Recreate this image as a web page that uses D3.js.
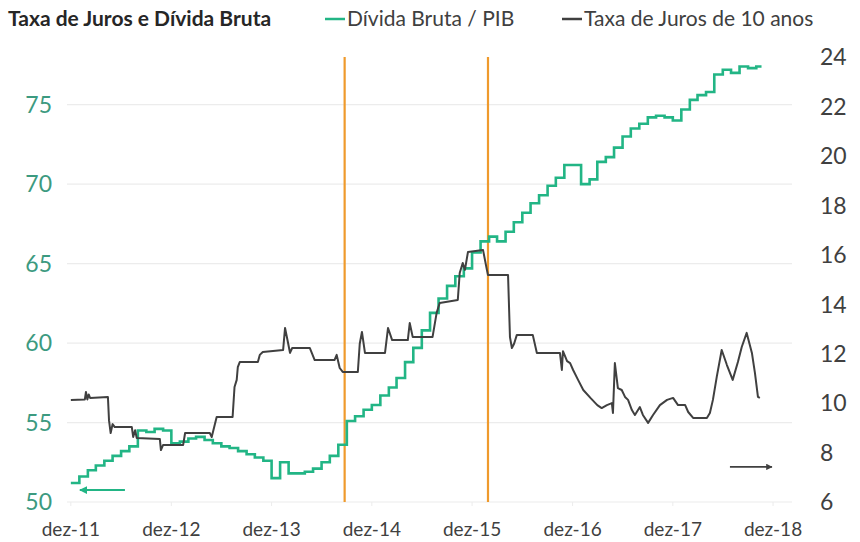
<!DOCTYPE html>
<html><head><meta charset="utf-8">
<script src="https://cdn.jsdelivr.net/npm/d3@7"></script>
<style>
body{margin:0;background:#fff}
svg{display:block}
text{font-family:Lato,"Open Sans",sans-serif}
</style>
</head><body>
<svg id="c" width="860" height="542"></svg>
<script>
const chartTitle = "Taxa de Juros e Dívida Bruta";
const seriesNames = ["Dívida Bruta / PIB", "Taxa de Juros de 10 anos"];
const leftTicks = [50, 55, 60, 65, 70, 75];
const rightTicks = [6, 8, 10, 12, 14, 16, 18, 20, 22, 24];
const xTickDates = ["2011-12-01","2012-12-01","2013-12-01","2014-12-01","2015-12-01","2016-12-01","2017-12-01","2018-12-01"];
const xTickLabels = ["dez-11","dez-12","dez-13","dez-14","dez-15","dez-16","dez-17","dez-18"];

// Dívida Bruta / PIB, monthly from dez-11
const debtStart = "2011-12-01";
const debtValues = [51.2,51.6,52.0,52.3,52.6,52.9,53.2,53.5,54.5,54.4,
  54.6,54.5,53.7,53.8,54.0,54.1,53.9,53.7,53.5,53.4,
  53.2,53.0,52.8,52.6,51.5,52.5,51.8,51.8,51.9,52.1,
  52.5,52.9,53.6,55.1,55.4,55.8,56.1,56.7,57.2,57.8,
  58.8,59.7,60.8,61.9,62.8,63.6,64.2,64.7,65.7,66.4,
  66.7,66.4,67.0,67.6,68.2,68.8,69.3,69.9,70.4,71.2,
  71.2,70.0,70.3,71.4,71.7,72.3,73.0,73.5,73.8,74.2,
  74.3,74.2,74.0,74.7,75.3,75.6,75.8,76.9,77.2,77.0,
  77.4,77.3,77.4];
const debtEnd = "2018-10-20";

// Taxa de Juros de 10 anos
const rateDates = ["2011-12-01","2012-01-21","2012-01-25","2012-01-30","2012-02-04","2012-02-09","2012-04-14","2012-04-18","2012-04-24","2012-05-01",
  "2012-05-09","2012-07-10","2012-07-15","2012-07-22","2012-07-28","2012-10-20","2012-10-24","2012-11-01","2013-01-13","2013-01-20",
  "2013-04-20","2013-04-27","2013-05-15","2013-07-12","2013-07-19","2013-07-27","2013-07-31","2013-08-07","2013-10-12","2013-10-19",
  "2013-10-30","2014-01-12","2014-01-19","2014-01-30","2014-02-06","2014-02-14","2014-04-19","2014-05-07","2014-07-18","2014-07-26",
  "2014-08-06","2014-08-17","2014-10-11","2014-10-18","2014-10-26","2014-11-06","2015-01-18","2015-01-29","2015-02-13","2015-04-11",
  "2015-04-18","2015-04-29","2015-07-10","2015-07-25","2015-08-05","2015-10-10","2015-10-17","2015-10-28","2015-11-05","2015-11-16",
  "2016-01-10","2016-01-24","2016-01-28","2016-04-10","2016-04-17","2016-04-24","2016-05-02","2016-05-12","2016-07-09","2016-07-24",
  "2016-10-16","2016-10-23","2016-10-27","2016-11-11","2016-11-22","2016-12-03","2016-12-21","2017-01-09","2017-02-04","2017-03-01",
  "2017-03-17","2017-04-05","2017-04-23","2017-04-27","2017-05-04","2017-05-15","2017-05-29","2017-06-10","2017-06-21","2017-07-05",
  "2017-07-16","2017-08-03","2017-08-14","2017-09-02","2017-09-20","2017-10-15","2017-11-10","2017-12-02","2017-12-20","2018-01-15",
  "2018-01-26","2018-02-13","2018-04-04","2018-04-15","2018-04-26","2018-05-10","2018-05-28","2018-06-16","2018-07-07","2018-07-26",
  "2018-08-09","2018-08-27","2018-09-15","2018-09-26","2018-10-07","2018-10-14"];
const rateValues = [10.13,10.15,10.45,10.15,10.35,10.21,10.25,9.30,8.79,9.15,
  9.03,9.03,8.63,8.90,8.59,8.55,8.10,8.31,8.31,8.79,
  8.79,8.63,9.44,9.44,10.65,10.94,11.46,11.66,11.66,11.95,
  12.07,12.15,13.04,12.43,12.03,12.23,12.23,11.74,11.74,11.95,
  11.42,11.26,11.26,12.40,12.88,12.03,12.03,13.04,12.55,12.55,
  13.24,12.67,12.67,13.65,14.05,14.17,15.26,15.67,15.39,16.11,
  16.19,15.39,15.18,15.18,12.67,12.23,12.40,12.76,12.76,12.03,
  12.03,11.34,12.10,11.70,11.62,11.34,10.94,10.53,10.21,9.92,
  9.80,9.92,10.00,9.60,11.62,10.61,10.53,10.25,10.13,9.72,
  9.52,9.84,9.52,9.20,9.52,9.92,10.13,10.21,9.92,9.92,
  9.64,9.40,9.40,9.60,10.13,11.06,12.15,11.54,10.94,11.66,
  12.27,12.84,12.03,11.22,10.25,10.21];

const eventDates = ["2014-08-24", "2016-01-28"];
const greenArrowDates = ["2012-06-15", "2012-01-03"];
const greenArrowValue = 50.75;
const darkArrowDates = ["2018-06-27", "2018-11-27"];
const darkArrowValue = 7.42;

const parse = d3.utcParse("%Y-%m-%d");
const svg = d3.select("#c");
const GREEN = "#22b585", DARK = "#404040", ORANGE = "#ef9a2c", GRID = "#ececec";

const x = d3.scaleUtc().domain([parse("2011-11-17"), parse("2019-02-08")]).range([67, 792]);
const yL = d3.scaleLinear().domain([50, 78]).range([502, 57]);
const yR = d3.scaleLinear().domain([6, 24]).range([502, 57]);

const defs = svg.append("defs");
function marker(id, color) {
  defs.append("marker").attr("id", id).attr("viewBox", "0 0 10 10").attr("refX", 9).attr("refY", 5)
    .attr("markerWidth", 4).attr("markerHeight", 4).attr("orient", "auto")
    .append("path").attr("d", "M0,0L10,5L0,10Z").attr("fill", color);
}
marker("ag", GREEN); marker("ad", DARK);

// gridlines
svg.append("g").selectAll("line").data(leftTicks).join("line")
  .attr("x1", x.range()[0]).attr("x2", x.range()[1])
  .attr("y1", d => yL(d)).attr("y2", d => yL(d))
  .attr("stroke", GRID).attr("stroke-width", 1.2);

// x ticks (faint)
svg.append("g").selectAll("line").data(xTickDates).join("line")
  .attr("x1", d => x(parse(d))).attr("x2", d => x(parse(d)))
  .attr("y1", yL(50)).attr("y2", yL(50) + 4)
  .attr("stroke", GRID).attr("stroke-width", 1);

// event lines
svg.append("g").selectAll("line").data(eventDates).join("line")
  .attr("x1", d => x(parse(d))).attr("x2", d => x(parse(d)))
  .attr("y1", yR(24)).attr("y2", yR(6))
  .attr("stroke", ORANGE).attr("stroke-width", 2.2);

// debt series
const d0 = parse(debtStart);
const debt = debtValues.map((v, i) => ({d: d3.utcMonth.offset(d0, i), v}));
debt.push({d: parse(debtEnd), v: debtValues[debtValues.length - 1]});
svg.append("path").datum(debt)
  .attr("fill", "none").attr("stroke", GREEN).attr("stroke-width", 2.6)
  .attr("stroke-linejoin", "miter")
  .attr("d", d3.line().x(p => x(p.d)).y(p => yL(p.v)).curve(d3.curveStepAfter));

// rate series
const rate = rateDates.map((d, i) => ({d: parse(d), v: rateValues[i]}));
svg.append("path").datum(rate)
  .attr("fill", "none").attr("stroke", DARK).attr("stroke-width", 2)
  .attr("stroke-linejoin", "round")
  .attr("d", d3.line().x(p => x(p.d)).y(p => yR(p.v)));

// arrows
svg.append("line")
  .attr("x1", x(parse(greenArrowDates[0]))).attr("x2", x(parse(greenArrowDates[1])))
  .attr("y1", yL(greenArrowValue)).attr("y2", yL(greenArrowValue))
  .attr("stroke", GREEN).attr("stroke-width", 2).attr("marker-end", "url(#ag)");
svg.append("line")
  .attr("x1", x(parse(darkArrowDates[0]))).attr("x2", x(parse(darkArrowDates[1])))
  .attr("y1", yR(darkArrowValue)).attr("y2", yR(darkArrowValue))
  .attr("stroke", DARK).attr("stroke-width", 1.6).attr("marker-end", "url(#ad)");

// axes labels
svg.append("g").selectAll("text").data(leftTicks).join("text")
  .attr("x", 52).attr("y", d => yL(d)).attr("dy", "0.36em")
  .attr("text-anchor", "end").attr("font-size", 23).attr("fill", "#3c9a80")
  .text(d => d);
svg.append("g").selectAll("text").data(rightTicks).join("text")
  .attr("x", 820).attr("y", d => yR(d)).attr("dy", "0.36em")
  .attr("text-anchor", "start").attr("font-size", 23).attr("fill", "#404040")
  .text(d => d);
svg.append("g").selectAll("text").data(xTickDates).join("text")
  .attr("x", d => x(parse(d))).attr("y", 536)
  .attr("text-anchor", "middle").attr("font-size", 19).attr("fill", "#404040")
  .text((d, i) => xTickLabels[i]);

// title & legend
svg.append("text").attr("x", 8).attr("y", 26).attr("font-size", 21).attr("font-weight", "bold")
  .attr("fill", "#262626").text(chartTitle);
const leg = [{name: seriesNames[0], color: GREEN, x: 325}, {name: seriesNames[1], color: DARK, x: 562}];
const lg = svg.append("g").selectAll("g").data(leg).join("g");
lg.append("line").attr("x1", d => d.x).attr("x2", d => d.x + 20).attr("y1", 19).attr("y2", 19)
  .attr("stroke", d => d.color).attr("stroke-width", 2.5);
lg.append("text").attr("x", d => d.x + 22).attr("y", 26).attr("font-size", 21).attr("fill", "#404040")
  .text(d => d.name);
</script>
</body></html>
